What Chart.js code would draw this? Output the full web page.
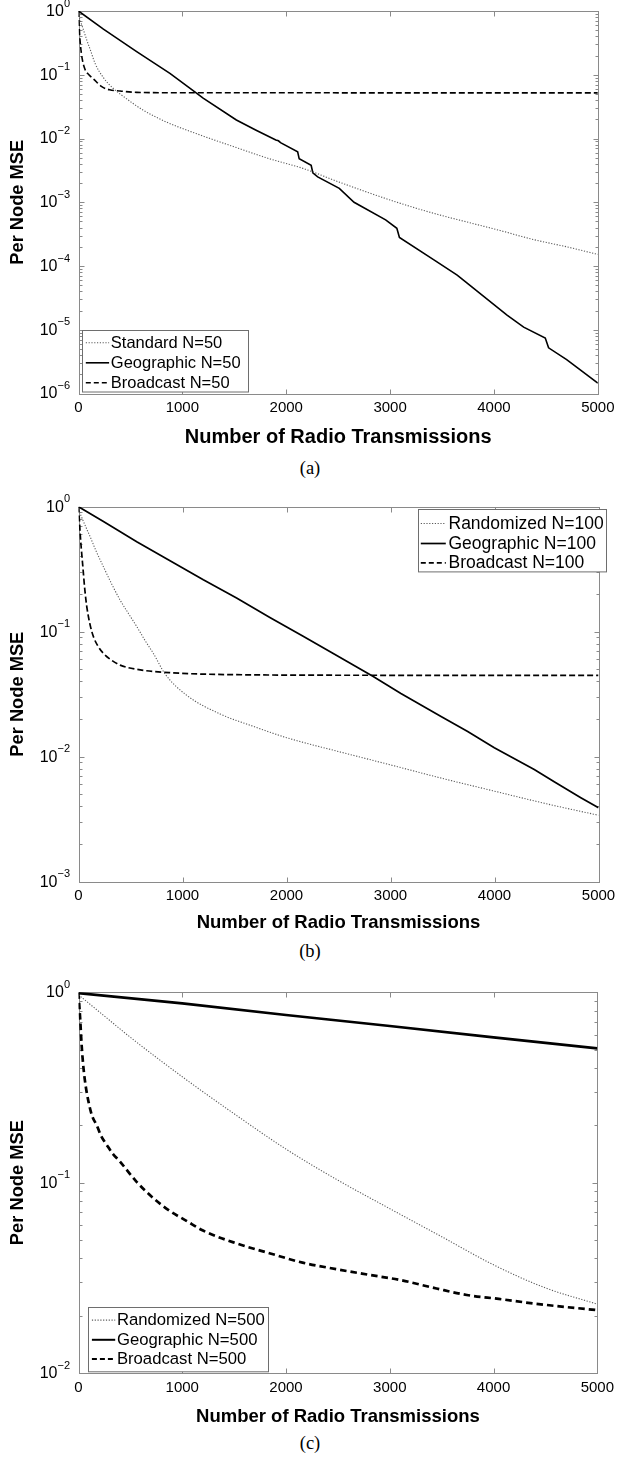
<!DOCTYPE html>
<html>
<head>
<meta charset="utf-8">
<script src="https://cdn.jsdelivr.net/npm/chart.js@4.4.1/dist/chart.umd.min.js"></script>
<style>
  body { margin: 0; background: #fff; width: 620px; height: 1459px; position: relative; overflow: hidden; }
  canvas { position: absolute; left: 0; }
  .caption { position: absolute; left: 0; width: 620px; text-align: center; line-height: 20px;
             font-family: "Liberation Serif", "Times New Roman", serif; font-size: 18.5px; color: #000; }
</style>
</head>
<body>
<canvas id="chartA"></canvas>
<div class="caption" style="top:458px">(a)</div>
<canvas id="chartB"></canvas>
<div class="caption" style="top:941px">(b)</div>
<canvas id="chartC"></canvas>
<div class="caption" style="top:1433px">(c)</div>

<script>
// x axis ticks shared by all three panels
const xTicks = [0, 1000, 2000, 3000, 4000, 5000];

// (a) N = 50
const std50X = [0, 40, 80, 120, 160, 240, 330, 430, 620, 850, 1130, 1520, 1840, 2160, 2500, 2800, 3100, 3420, 3740, 4060, 4380, 4700, 5000];
const std50Y = [0.85, 0.55, 0.35, 0.23, 0.15, 0.09, 0.062, 0.046, 0.028, 0.018, 0.012, 0.0072, 0.0048, 0.0034, 0.0021, 0.0014, 0.00096, 0.00067, 0.00049, 0.00036, 0.00026, 0.0002, 0.000152];
const geo50X = [0, 240, 560, 880, 1120, 1200, 1520, 1710, 1900, 1925, 1945, 2110, 2125, 2240, 2256, 2303, 2511, 2653, 2957, 3065, 3090, 3422, 3646, 3742, 4126, 4286, 4494, 4526, 4700, 5000];
const geo50Y = [1.0, 0.52, 0.23, 0.105, 0.054, 0.043, 0.0195, 0.0135, 0.0095, 0.0092, 0.0086, 0.0062, 0.0048, 0.0038, 0.0029, 0.0025, 0.00165, 0.001, 0.00053, 0.00039, 0.00028, 0.000125, 0.000072, 0.000054, 0.000017, 0.000011, 0.0000074, 0.0000052, 0.0000034, 0.00000145];
const bc50X = [0, 10, 20, 35, 64, 100, 144, 224, 300, 400, 560, 1000, 5000];
const bc50Y = [1.0, 0.45, 0.28, 0.18, 0.12, 0.1, 0.086, 0.065, 0.058, 0.0555, 0.053, 0.0522, 0.052];

// (b) N = 100
const rnd100X = [0, 16, 60, 112, 170, 240, 320, 400, 480, 560, 640, 720, 832, 1040, 1360, 1680, 2000, 2500, 3000, 3500, 4000, 4500, 5000];
const rnd100Y = [0.95, 0.88, 0.72, 0.575, 0.44, 0.33, 0.24, 0.179, 0.14, 0.11, 0.085, 0.067, 0.046, 0.031, 0.022, 0.0175, 0.0142, 0.011, 0.0086, 0.0067, 0.0053, 0.0042, 0.0034];
const geo100X = [0, 240, 560, 880, 1200, 1520, 1840, 2160, 2462, 2830, 3100, 3486, 3742, 3998, 4382, 4574, 4830, 5000];
const geo100Y = [1.0, 0.76, 0.525, 0.37, 0.26, 0.186, 0.13, 0.092, 0.066, 0.044, 0.032, 0.021, 0.0159, 0.0118, 0.0079, 0.0063, 0.0047, 0.0039];
const bc100X = [0, 8, 16, 28, 42, 60, 80, 110, 144, 190, 240, 320, 400, 560, 880, 1520, 3000, 5000];
const bc100Y = [1.0, 0.8, 0.61, 0.45, 0.33, 0.22, 0.158, 0.115, 0.091, 0.076, 0.067, 0.059, 0.054, 0.05, 0.047, 0.0453, 0.0448, 0.0447];

// (c) N = 500
const rnd500X = [0, 250, 500, 1000, 1500, 2000, 2500, 3000, 3500, 4000, 4500, 5000];
const rnd500Y = [0.97, 0.75, 0.58, 0.36, 0.23, 0.15, 0.103, 0.073, 0.052, 0.037, 0.028, 0.023];
const geo500X = [0, 1000, 2000, 3000, 4000, 5000];
const geo500Y = [0.99, 0.875, 0.76, 0.665, 0.58, 0.508];
const bc500X = [0, 8, 16, 30, 48, 70, 96, 130, 176, 220, 272, 330, 400, 480, 560, 720, 880, 1040, 1200, 1520, 1840, 2160, 2500, 2800, 3100, 3450, 3742, 4050, 4382, 4700, 5000];
const bc500Y = [1.0, 0.85, 0.73, 0.53, 0.4, 0.32, 0.267, 0.225, 0.2, 0.175, 0.158, 0.142, 0.129, 0.114, 0.101, 0.083, 0.071, 0.063, 0.056, 0.048, 0.0426, 0.038, 0.035, 0.0328, 0.0308, 0.0278, 0.0257, 0.0245, 0.0232, 0.0222, 0.0214];

const FONT = '"Liberation Sans", Arial, Helvetica, sans-serif';
const axisColor = '#8a8a8a';

function pts(xs, ys) {
    return xs.map((x, i) => ({ x: x, y: ys[i] }));
}

// MATLAB-like box, inward ticks, 10^n labels and a boxed legend
const matlabAxes = {
    id: 'matlabAxes',
    beforeDatasetsDraw(chart) {
        const { ctx, chartArea: a, scales: { x, y } } = chart;
        const L = Math.round(a.left) + 0.5, R = Math.round(a.right) + 0.5;
        const T = Math.round(a.top) + 0.5, B = Math.round(a.bottom) + 0.5;
        ctx.save();
        ctx.strokeStyle = axisColor;
        ctx.lineWidth = 1;
        ctx.strokeRect(L, T, R - L, B - T);
        ctx.beginPath();
        xTicks.forEach(v => {
            const px = Math.round(x.getPixelForValue(v)) + 0.5;
            ctx.moveTo(px, B); ctx.lineTo(px, B - 5);
            ctx.moveTo(px, T); ctx.lineTo(px, T + 5);
        });
        const lo = Math.round(Math.log10(y.min));
        for (let e = lo; e <= 0; e++) {
            for (let m = 1; m <= 9; m++) {
                const v = m * Math.pow(10, e);
                if (v > y.max * 1.0001) break;
                const py = Math.round(y.getPixelForValue(v)) + 0.5;
                const len = m === 1 ? 5 : 3;
                ctx.moveTo(L, py); ctx.lineTo(L + len, py);
                ctx.moveTo(R, py); ctx.lineTo(R - len, py);
            }
        }
        ctx.stroke();

        // decade labels
        ctx.fillStyle = '#000';
        ctx.textBaseline = 'middle';
        ctx.textAlign = 'right';
        for (let e = lo; e <= 0; e++) {
            const py = y.getPixelForValue(Math.pow(10, e));
            const exp = e === 0 ? '0' : '\u2212' + (-e);
            ctx.font = '11px ' + FONT;
            const w = ctx.measureText(exp).width;
            ctx.fillText(exp, a.left - 8.5, py - 7.5);
            ctx.font = '16px ' + FONT;
            ctx.fillText('10', a.left - 8.5 - w, py + 0.5);
        }
        ctx.restore();
    },
    afterDatasetsDraw(chart, args, opts) {
        const { ctx, chartArea: a } = chart;
        const bx = Math.round(a.left + opts.left) + 0.5;
        const by = Math.round(a.top + opts.top) + 0.5;
        ctx.save();
        ctx.fillStyle = '#fff';
        ctx.fillRect(bx, by, opts.width, opts.height);
        ctx.strokeStyle = '#6e6e6e';
        ctx.lineWidth = 1;
        ctx.strokeRect(bx, by, opts.width, opts.height);
        chart.data.datasets.forEach((ds, i) => {
            const ry = by + opts.rows[i];
            ctx.beginPath();
            ctx.strokeStyle = ds.borderColor;
            ctx.lineWidth = Math.min(ds.borderWidth, 2);
            ctx.setLineDash(ds.legendDash || ds.borderDash || []);
            ctx.moveTo(bx + opts.sample[0], ry);
            ctx.lineTo(bx + opts.sample[1], ry);
            ctx.stroke();
            ctx.setLineDash([]);
            ctx.fillStyle = '#000';
            ctx.font = opts.fontSize + 'px ' + FONT;
            ctx.textBaseline = 'middle';
            ctx.textAlign = 'left';
            ctx.fillText(ds.label, bx + opts.textX, ry + 0.5);
        });
        ctx.restore();
    }
};

function makePanel(id, p) {
    const canvas = document.getElementById(id);
    const xAxisH = p.titleOffset + p.titleSize * 0.6;
    const H = Math.ceil(p.padTop + p.plotH + xAxisH);
    canvas.width = 620;
    canvas.height = H;
    canvas.style.top = p.top + 'px';

    const dotted = { borderColor: '#5a5a5a', borderWidth: 1.1, borderDash: [1.2, 1.6], legendDash: [1.2, 1.6] };
    const solid = { borderColor: '#000', borderWidth: p.lw, borderDash: [] };
    const dashed = { borderColor: '#000', borderWidth: p.lw, borderDash: p.dash, legendDash: [5, 3] };

    new Chart(canvas, {
        type: 'line',
        data: {
            datasets: [
                Object.assign({ label: p.labels[0], data: pts(p.s1[0], p.s1[1]), cubicInterpolationMode: 'monotone' }, dotted),
                Object.assign({ label: p.labels[1], data: pts(p.s2[0], p.s2[1]), tension: 0 }, solid),
                Object.assign({ label: p.labels[2], data: pts(p.s3[0], p.s3[1]), cubicInterpolationMode: 'monotone' }, dashed)
            ]
        },
        plugins: [matlabAxes],
        options: {
            responsive: false,
            animation: false,
            events: [],
            elements: { point: { radius: 0 } },
            layout: { padding: { left: 0, right: 20.5, top: p.padTop, bottom: H - (p.padTop + p.plotH + xAxisH) } },
            plugins: {
                legend: { display: false },
                tooltip: { enabled: false },
                matlabAxes: p.legend
            },
            scales: {
                x: {
                    type: 'linear', min: 0, max: 5000,
                    grid: { display: false, drawTicks: false },
                    border: { display: false },
                    afterBuildTicks: s => { s.ticks = xTicks.map(v => ({ value: v })); },
                    ticks: {
                        color: '#000', padding: p.xLabelGap - 9, maxRotation: 0, autoSkip: false,
                        font: { family: FONT, size: 15 },
                        callback: v => String(v)
                    },
                    title: {
                        display: true, text: 'Number of Radio Transmissions', color: '#000',
                        font: { family: FONT, size: p.titleSize, weight: 'bold' },
                        padding: { top: 0, bottom: 0 }
                    },
                    afterFit: s => { s.height = xAxisH; }
                },
                y: {
                    type: 'logarithmic', min: p.yMin, max: 1,
                    grid: { display: false, drawTicks: false },
                    border: { display: false },
                    ticks: { display: false },
                    title: {
                        display: true, text: 'Per Node MSE', color: '#000',
                        font: { family: FONT, size: 18.3, weight: 'bold' },
                        padding: { top: 7, bottom: 0 }
                    },
                    afterFit: s => { s.width = 78.5; }
                }
            }
        }
    });
}

makePanel('chartA', {
    top: 0, padTop: 11, plotH: 382.5, titleOffset: 43.5, titleSize: 20, xLabelGap: 14.5,
    yMin: 1e-6, lw: 1.6, dash: [6, 3],
    labels: ['Standard N=50', 'Geographic N=50', 'Broadcast N=50'],
    s1: [std50X, std50Y], s2: [geo50X, geo50Y], s3: [bc50X, bc50Y],
    legend: { left: 3.2, top: 319, width: 166, height: 61.5, rows: [12.3, 32.3, 52.3], sample: [3.3, 26.6], textX: 28.3, fontSize: 16.5 }
});

makePanel('chartB', {
    top: 487, padTop: 19.7, plotH: 375, titleOffset: 41.3, titleSize: 18.5, xLabelGap: 13.8,
    yMin: 1e-3, lw: 1.7, dash: [6, 3],
    labels: ['Randomized N=100', 'Geographic N=100', 'Broadcast N=100'],
    s1: [rnd100X, rnd100Y], s2: [geo100X, geo100Y], s3: [bc100X, bc100Y],
    legend: { left: 339.2, top: 2.6, width: 188, height: 62.4, rows: [14, 34, 53.4], sample: [2.3, 27.3], textX: 30, fontSize: 17.5 }
});

makePanel('chartC', {
    top: 972, padTop: 20.3, plotH: 380.7, titleOffset: 43.7, titleSize: 18.5, xLabelGap: 15,
    yMin: 1e-2, lw: 2.7, dash: [6.5, 4],
    labels: ['Randomized N=500', 'Geographic N=500', 'Broadcast N=500'],
    s1: [rnd500X, rnd500Y], s2: [geo500X, geo500Y], s3: [bc500X, bc500Y],
    legend: { left: 9.8, top: 314.4, width: 180, height: 64.3, rows: [12.6, 32.3, 51.6], sample: [3.4, 26.7], textX: 28.4, fontSize: 16.7 }
});
</script>
</body>
</html>
